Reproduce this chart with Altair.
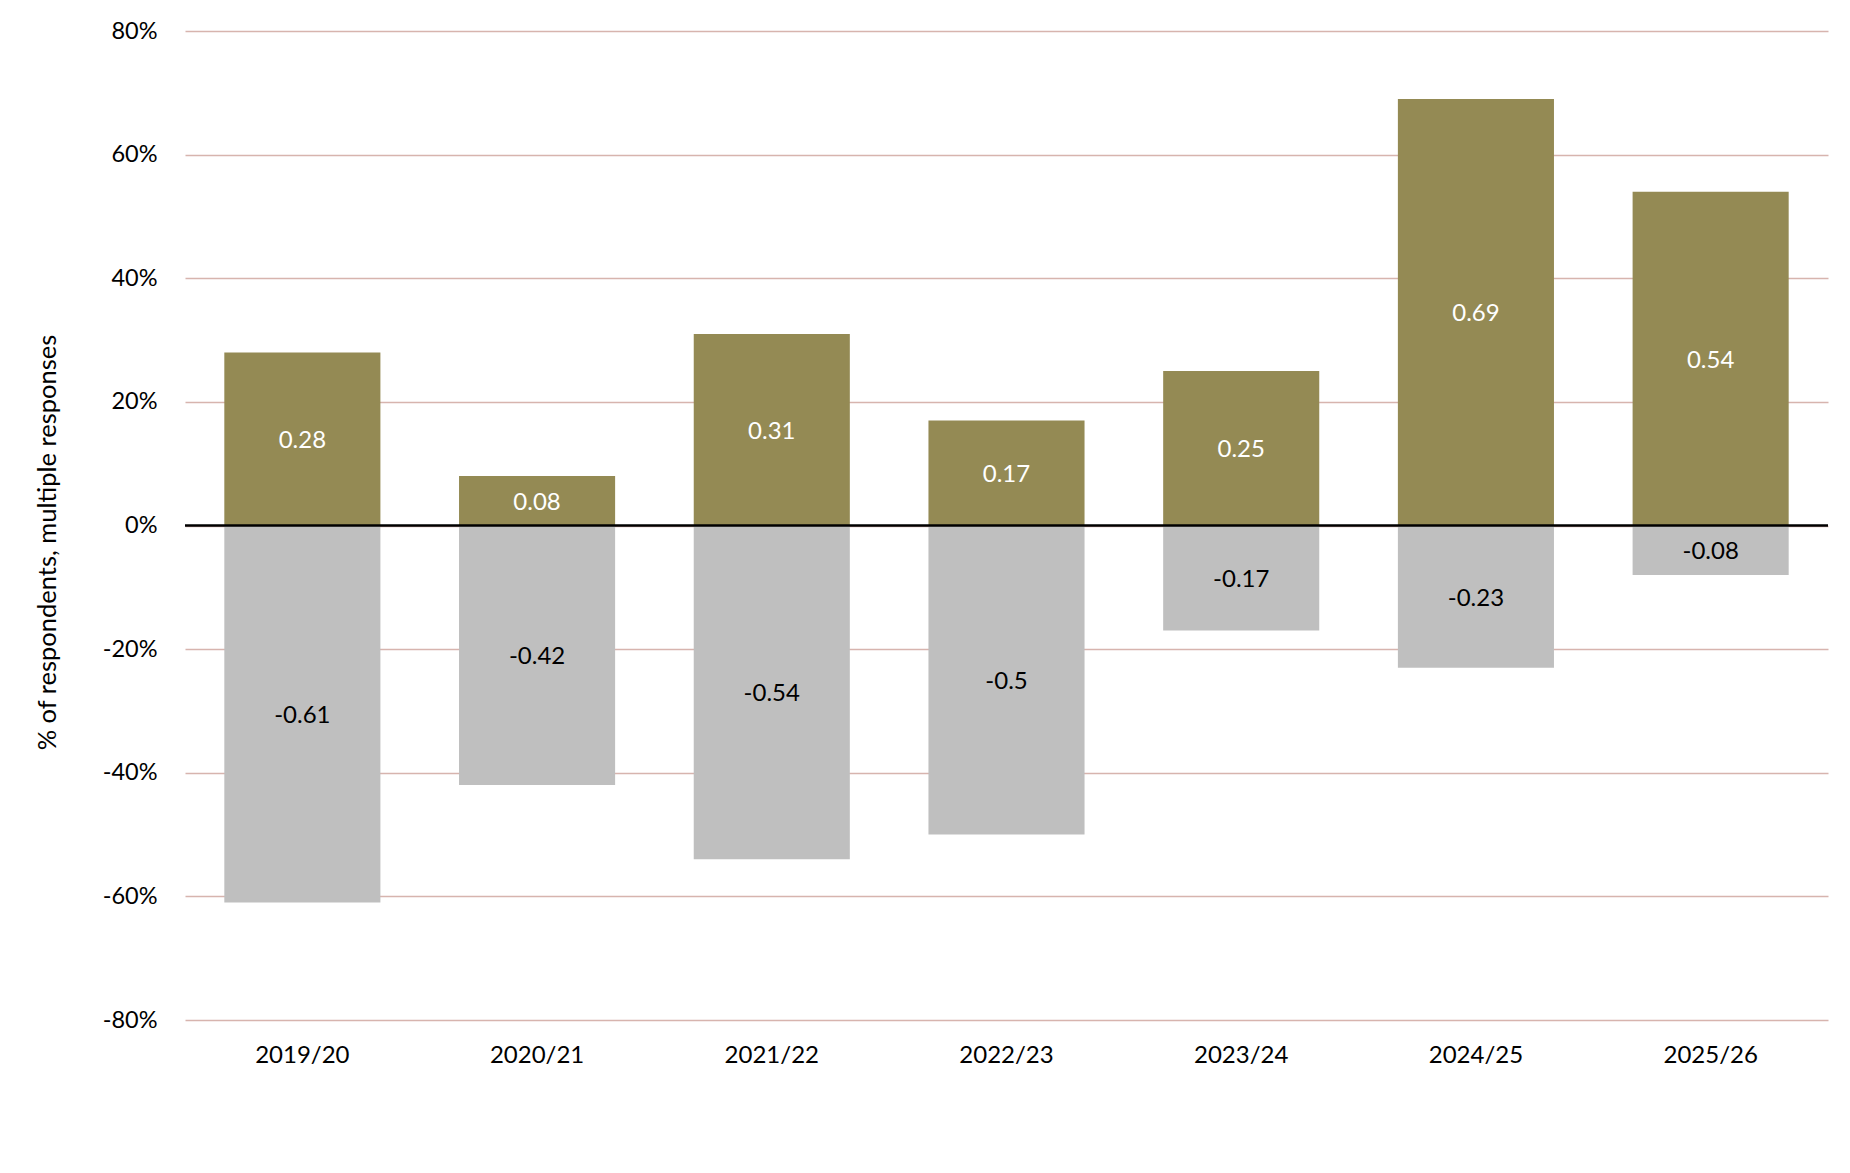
import altair as alt
import pandas as pd

years = ["2019/20", "2020/21", "2021/22", "2022/23", "2023/24", "2024/25", "2025/26"]
positive = [0.28, 0.08, 0.31, 0.17, 0.25, 0.69, 0.54]
negative = [-0.61, -0.42, -0.54, -0.5, -0.17, -0.23, -0.08]
y_ticks = [-0.8, -0.6, -0.4, -0.2, 0.0, 0.2, 0.4, 0.6, 0.8]

rows = []
for y, p, n in zip(years, positive, negative):
    rows.append({"year": y, "series": "positive", "value": p, "label": str(p)})
    rows.append({"year": y, "series": "negative", "value": n, "label": str(n)})
df = pd.DataFrame(rows)

FONT = "Lato"

x_enc = alt.X(
    "year:N",
    sort=years,
    scale=alt.Scale(paddingInner=0.335, paddingOuter=0.1675),
    axis=alt.Axis(
        title=None,
        domain=False,
        ticks=False,
        tickSize=0,
        grid=False,
        labelAngle=0,
        labelFont=FONT,
        labelFontSize=24,
        labelColor="#000000",
        labelBaseline="middle",
        labelPadding=35,
    ),
)

y_scale = alt.Scale(domain=[-0.8, 0.8], nice=False, zero=True)

bars = alt.Chart(df).mark_bar().encode(
    x=x_enc,
    y=alt.Y(
        "value:Q",
        scale=y_scale,
        stack=None,
        axis=alt.Axis(
            values=y_ticks,
            labelExpr="round(datum.value * 100) + '%'",
            title="% of respondents, multiple responses",
            titleFont=FONT,
            titleFontSize=25.5,
            titleFontWeight="normal",
            titleColor="#000000",
            titleAngle=-90,
            titleBaseline="middle",
            titleAlign="center",
            titleX=-138,
            titleY=511,
            domain=False,
            ticks=False,
            tickSize=0,
            grid=True,
            gridColor="#D7B4AE",
            gridWidth=1.5,
            labelFont=FONT,
            labelFontSize=23.5,
            labelColor="#000000",
            labelPadding=28,
            labelAlign="right",
            labelBaseline="middle",
        ),
    ),
    color=alt.Color(
        "series:N",
        scale=alt.Scale(domain=["positive", "negative"], range=["#948A54", "#BFBFBF"]),
        legend=None,
    ),
)

zero_line = alt.Chart(pd.DataFrame({"z": [0.0]})).mark_rule(
    color="#000000", strokeWidth=2.5
).encode(y=alt.Y("z:Q", scale=y_scale))

labels = alt.Chart(df).transform_calculate(
    mid="datum.value / 2"
).mark_text(font=FONT, fontSize=24, baseline="middle", align="center", dy=2).encode(
    x=alt.X("year:N", sort=years),
    y=alt.Y("mid:Q", scale=y_scale),
    text="label:N",
    color=alt.Color(
        "series:N",
        scale=alt.Scale(domain=["positive", "negative"], range=["#FFFFFF", "#000000"]),
        legend=None,
    ),
)

chart = (
    alt.layer(bars, zero_line, labels)
    .resolve_scale(color="independent")
    .properties(
        width=1643,
        height=989,
        autosize=alt.AutoSizeParams(type="none"),
        padding={"left": 177, "top": 23, "right": 14, "bottom": 140},
        background="#FFFFFF",
    )
    .configure_view(stroke=None)
)

chart.save("out.html", embed_options={"renderer": "svg", "actions": False})
